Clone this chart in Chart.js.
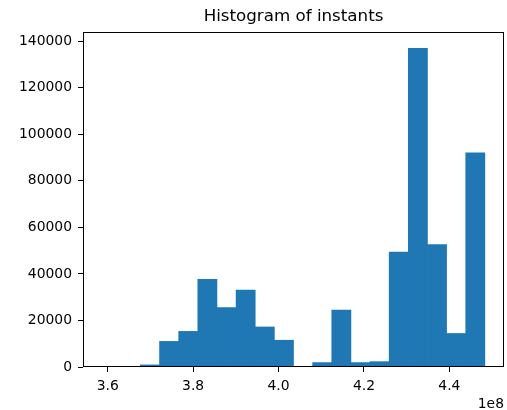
<!DOCTYPE html>
<html>
<head>
<meta charset="utf-8">
<script src="https://cdn.jsdelivr.net/npm/chart.js@4/dist/chart.umd.min.js"></script>
<style>
  body { margin: 0; background: #fff; }
  #wrap { width: 507px; height: 410px; }
</style>
</head>
<body>
<div id="wrap"><canvas id="hist" width="507" height="410"></canvas></div>
<script>
// bin edges (x values in units of 1e8)
var binEdges = [3.5870, 3.6318, 3.6766, 3.7214, 3.7662, 3.8110, 3.8558, 3.9006, 3.9454, 3.9902,
                4.0350, 4.0798, 4.1246, 4.1694, 4.2142, 4.2590, 4.3038, 4.3486, 4.3934, 4.4382, 4.4830];

// counts per bin
var counts = [200, 0, 900, 11000, 15300, 37700, 25500, 33000, 17200, 11500,
              0, 1900, 24500, 1900, 2300, 49400, 136900, 52600, 14400, 92000];

var xTicks = [3.6, 3.8, 4.0, 4.2, 4.4];
var yTicks = [0, 20000, 40000, 60000, 80000, 100000, 120000, 140000];

// bars for the histogram
var barras = [];
for (let i = 0; i < counts.length; i++) {
    barras.push({ x: (binEdges[i] + binEdges[i + 1]) / 2, y: counts[i] });
}

var ancho = binEdges[binEdges.length - 1] - binEdges[0];
var fuente = 'DejaVu Sans';

// frame round the plot area, like matplotlib
var marco = {
    id: 'marco',
    afterDraw: function(chart) {
        var a = chart.chartArea, ctx = chart.ctx;
        ctx.save();
        ctx.strokeStyle = '#000';
        ctx.lineWidth = 1;
        ctx.strokeRect(Math.round(a.left) + 0.5, Math.round(a.top) + 0.5,
                       Math.round(a.right - a.left) - 1, Math.round(a.bottom - a.top) - 1);
        ctx.restore();
    }
};

var chart = new Chart(document.getElementById('hist'), {
    type: 'bar',
    data: {
        datasets: [{
            data: barras,
            backgroundColor: '#1f77b4',
            borderWidth: 0,
            barPercentage: 1,
            categoryPercentage: 1
        }]
    },
    options: {
        responsive: false,
        animation: false,
        layout: { padding: { left: 0, right: 3, top: 0, bottom: 0 } },
        plugins: {
            legend: { display: false },
            tooltip: { enabled: false },
            title: {
                display: true,
                fullSize: false,
                text: 'Histogram of instants',
                color: '#000',
                font: { family: fuente, size: 16.7, weight: 'normal', lineHeight: 1.2 },
                padding: { top: 7, bottom: 5 }
            }
        },
        scales: {
            x: {
                type: 'linear',
                offset: false,
                min: binEdges[0] - ancho * 0.05,
                max: binEdges[binEdges.length - 1] + ancho * 0.05,
                afterBuildTicks: function(scale) {
                    scale.ticks = xTicks.map(function(v) { return { value: v }; });
                },
                afterFit: function(scale) { scale.height = 43; },
                grid: { display: true, offset: false, drawOnChartArea: false, drawTicks: true, tickLength: 5, color: '#000' },
                border: { display: false },
                ticks: {
                    color: '#000',
                    padding: 6,
                    maxRotation: 0,
                    font: { family: fuente, size: 13.9 },
                    callback: function(v) { return v.toFixed(1); }
                },
                title: {
                    display: true,
                    text: '1e8',
                    align: 'end',
                    color: '#000',
                    font: { family: fuente, size: 13.9, lineHeight: 0.8 },
                    padding: { top: 0, bottom: 0 }
                }
            },
            y: {
                min: 0,
                max: 143900,
                afterBuildTicks: function(scale) {
                    scale.ticks = yTicks.map(function(v) { return { value: v }; });
                },
                afterFit: function(scale) { scale.width = 83; },
                grid: { display: true, drawOnChartArea: false, drawTicks: true, tickLength: 5, color: '#000' },
                border: { display: false },
                ticks: {
                    color: '#000',
                    padding: 6,
                    font: { family: fuente, size: 13.9 },
                    callback: function(v) { return String(v); }
                }
            }
        }
    },
    plugins: [marco]
});
</script>
</body>
</html>
